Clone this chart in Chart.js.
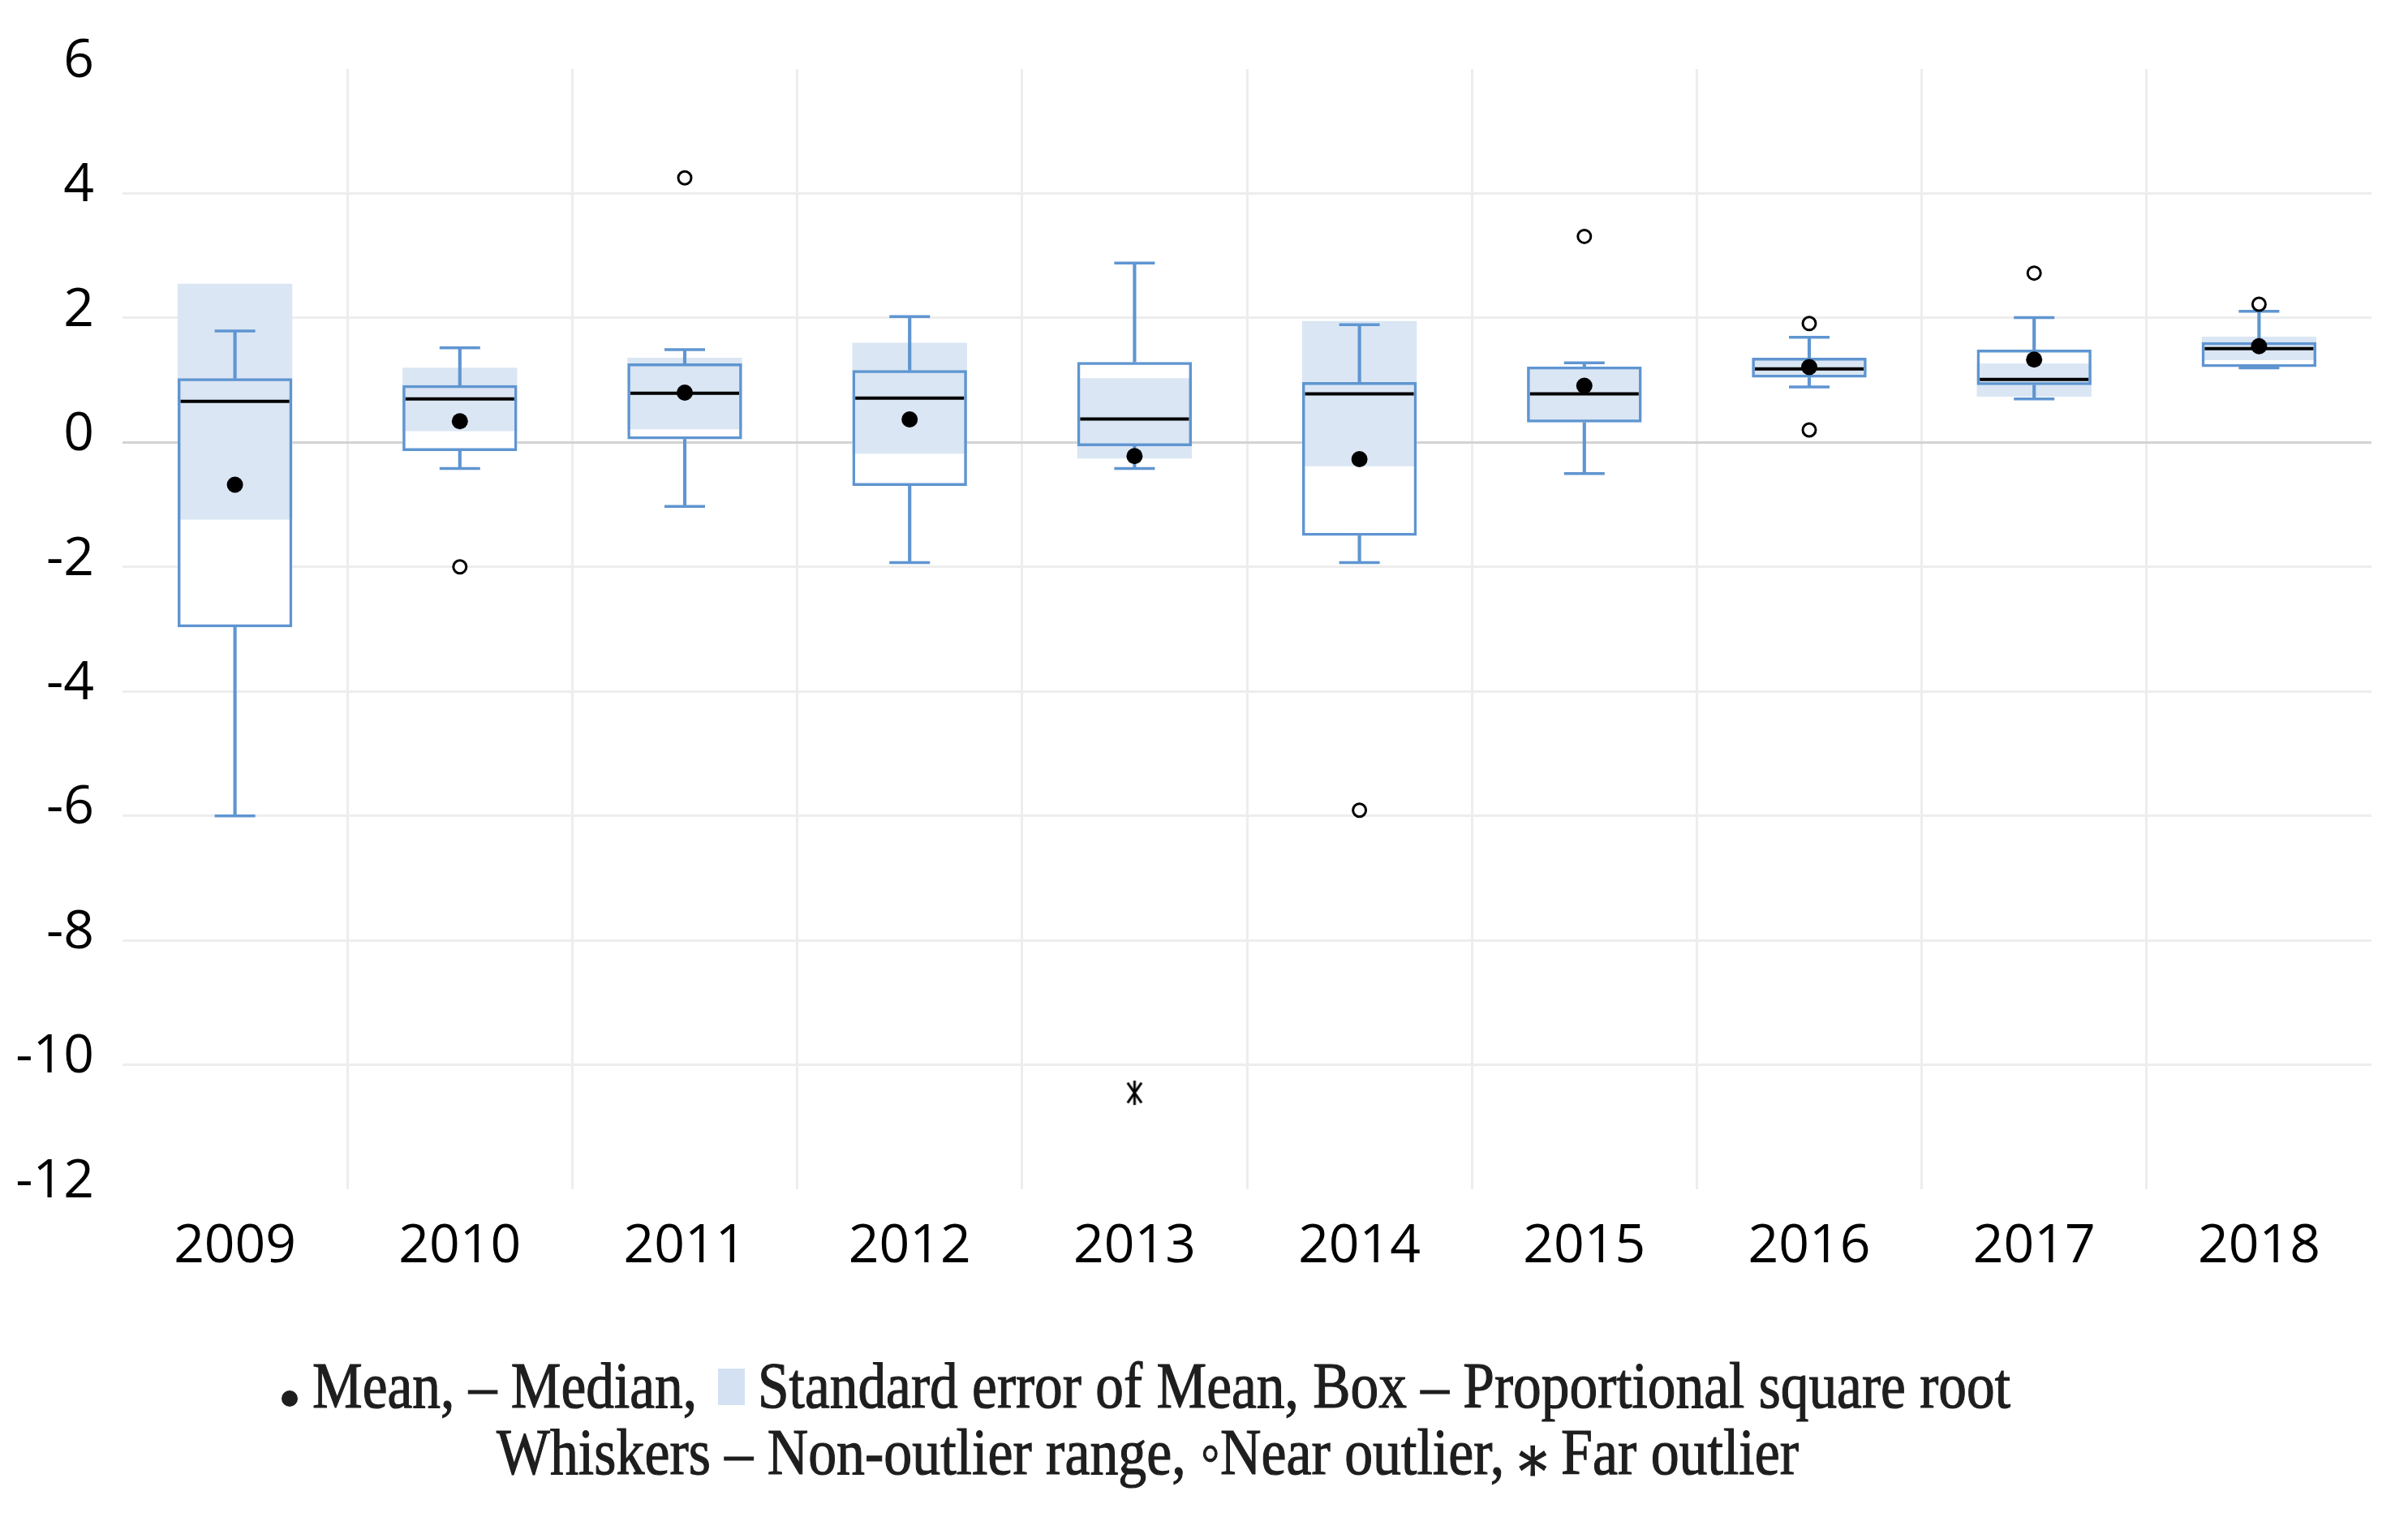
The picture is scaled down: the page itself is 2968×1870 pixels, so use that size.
<!DOCTYPE html>
<html>
<head>
<meta charset="utf-8">
<script src="https://cdn.jsdelivr.net/npm/chart.js"></script>
<style>
html,body{margin:0;padding:0;background:#ffffff;}
#wrap{width:2968px;height:1870px;position:relative;}
canvas{display:block;}
</style>
</head>
<body>
<div id="wrap"><canvas id="c" width="2968" height="1870"></canvas></div>
<script>
// ---------------- data ----------------
const years = ['2009','2010','2011','2012','2013','2014','2015','2016','2017','2018'];
const yTicks = [6, 4, 2, 0, -2, -4, -6, -8, -10, -12];

const boxLow      = [-2.97, -0.14, 0.05, -0.70, -0.06, -1.50, 0.32, 1.04, 0.92, 1.21];
const boxHigh     = [ 1.03,  0.92, 1.27,  1.16,  1.29,  0.97, 1.22, 1.36, 1.49, 1.61];
const seLow       = [-1.24,  0.18, 0.21, -0.18, -0.26, -0.385, 0.34, 1.06, 0.735, 1.32];
const seHigh      = [ 2.55,  1.20, 1.36,  1.60,  1.03,  1.95, 1.20, 1.34, 1.27, 1.70];
const medians     = [ 0.66,  0.70, 0.79,  0.71,  0.375, 0.78, 0.78, 1.18, 1.01, 1.505];
const means       = [-0.68,  0.34, 0.80,  0.37, -0.22, -0.27, 0.91, 1.21, 1.33, 1.545];
const whiskerMin  = [-6.00, -0.42, -1.03, -1.93, -0.42, -1.93, -0.50, 0.89, 0.70, 1.197];
const whiskerMax  = [ 1.79,  1.52, 1.49,  2.02,  2.88,  1.89, 1.28, 1.69, 2.006, 2.105];
const nearOutliers = [[], [-2.0], [4.25], [], [], [-5.91], [3.31], [1.91, 0.20], [2.72], [2.22]];
const farOutliers  = [[], [], [], [], [-10.45], [], [], [], [], []];

const legendMean  = 'Mean, \u2013 Median,';
const legendSE    = 'Standard error of Mean, Box \u2013 Proportional square root';
const legendLine2 = 'Whiskers \u2013 Non-outlier range, \u25E6Near outlier, \u204E Far outlier';

// ---------------- styles ----------------
const BLUE = '#5f95d1';
const SEFILL = '#dae6f3';
const GRID = '#ededed';
const ZERO = '#d3d3d3';
const TICKFONT = {family: '"Open Sans", "Noto Sans", sans-serif', size: 66};

function toPoints(lists) {
  const pts = [];
  lists.forEach((arr, i) => arr.forEach(v => pts.push({x: years[i], y: v})));
  return pts;
}

// asterisk marker
const star = document.createElement('canvas');
star.width = 30; star.height = 34;
(function(){
  const g = star.getContext('2d');
  g.strokeStyle = '#000'; g.lineWidth = 3; g.lineCap = 'butt';
  [90, 55, 125].forEach(a => {
    const r = a * Math.PI / 180, L = 15;
    g.beginPath();
    g.moveTo(15 + Math.cos(r) * L, 17 - Math.sin(r) * L);
    g.lineTo(15 - Math.cos(r) * L, 17 + Math.sin(r) * L);
    g.stroke();
  });
})();

function drawText(ctx, txt, x, y, sx) {
  ctx.save();
  ctx.translate(x, y);
  ctx.scale(sx, 1);
  ctx.fillText(txt, 0, 0);
  ctx.strokeText(txt, 0, 0);
  ctx.restore();
}

const legendPlugin = {
  id: 'legendText',
  afterDraw(chart) {
    const ctx = chart.ctx;
    const TXT = '#1e1e1e';
    ctx.save();
    ctx.font = '81px "Liberation Serif", "DejaVu Serif", serif';
    ctx.textBaseline = 'alphabetic';
    ctx.textAlign = 'left';
    ctx.fillStyle = TXT;
    ctx.strokeStyle = TXT;
    ctx.lineWidth = 1.2;
    const wSE = ctx.measureText(legendSE).width;
    const sx = (2478 - 934) / wSE;
    // mean dot
    ctx.beginPath();
    ctx.arc(357, 1724, 10, 0, Math.PI * 2);
    ctx.fill();
    drawText(ctx, legendMean, 385, 1735, sx);
    // SE swatch
    ctx.fillStyle = '#d3e1f2';
    ctx.fillRect(885, 1687, 33, 45);
    ctx.fillStyle = TXT;
    drawText(ctx, legendSE, 934, 1735, sx);
    // line 2
    const w2 = ctx.measureText(legendLine2).width;
    drawText(ctx, legendLine2, 612, 1817, (2217 - 612) / w2);
    ctx.restore();
  }
};

const rangeOf = (a, b) => years.map((_, i) => [a[i], b[i]]);

const barCommon = {type: 'bar', grouped: false, categoryPercentage: 1.0, barPercentage: 0.51};

new Chart(document.getElementById('c'), {
  type: 'bar',
  data: {
    labels: years,
    datasets: [
      Object.assign({}, barCommon, {label: 'boxFill', data: rangeOf(boxLow, boxHigh), backgroundColor: '#ffffff', borderWidth: 0, order: 10}),
      Object.assign({}, barCommon, {label: 'se', data: rangeOf(seLow, seHigh), backgroundColor: SEFILL, borderWidth: 0, order: 9}),
      Object.assign({}, barCommon, {label: 'box', data: rangeOf(boxLow, boxHigh), backgroundColor: 'rgba(0,0,0,0)', borderColor: BLUE, borderWidth: 3.5, borderSkipped: false, order: 8}),
      {type: 'bar', grouped: false, label: 'whiskUp', data: rangeOf(boxHigh, whiskerMax), backgroundColor: BLUE, borderWidth: 0, barThickness: 3.5, order: 7},
      {type: 'bar', grouped: false, label: 'whiskDown', data: rangeOf(whiskerMin, boxLow), backgroundColor: BLUE, borderWidth: 0, barThickness: 3.5, order: 7},
      {type: 'line', label: 'capMax', data: whiskerMax, showLine: false, pointStyle: 'line', pointRadius: 25, pointBorderWidth: 3.5, pointBorderColor: BLUE, borderColor: BLUE, order: 6},
      {type: 'line', label: 'capMin', data: whiskerMin, showLine: false, pointStyle: 'line', pointRadius: 25, pointBorderWidth: 3.5, pointBorderColor: BLUE, borderColor: BLUE, order: 6},
      {type: 'line', label: 'median', data: medians, showLine: false, pointStyle: 'line', pointRadius: 67, pointBorderWidth: 4, pointBorderColor: '#000', borderColor: '#000', order: 5},
      {type: 'line', label: 'mean', data: means, showLine: false, pointStyle: 'circle', pointRadius: 10, pointBackgroundColor: '#000', pointBorderColor: '#000', pointBorderWidth: 0, order: 4},
      {type: 'line', label: 'near', data: toPoints(nearOutliers), showLine: false, pointStyle: 'circle', pointRadius: 8, pointBackgroundColor: '#fff', pointBorderColor: '#000', pointBorderWidth: 3, order: 3},
      {type: 'line', label: 'far', data: toPoints(farOutliers), showLine: false, pointStyle: star, pointRadius: 15, order: 2}
    ]
  },
  options: {
    responsive: false,
    devicePixelRatio: 1,
    animation: false,
    events: [],
    layout: {autoPadding: false, padding: {top: 85, right: 45, left: 0, bottom: 0}},
    plugins: {legend: {display: false}, tooltip: {enabled: false}, title: {display: false}},
    scales: {
      x: {
        type: 'category',
        offset: true,
        border: {display: false},
        grid: {
          offset: true,
          drawTicks: false,
          lineWidth: 3,
          color: (c) => (c.type === 'tick' && c.index > 0) ? GRID : 'rgba(0,0,0,0)'
        },
        ticks: {font: TICKFONT, color: '#000', padding: 32, maxRotation: 0, autoSkip: false},
        afterFit: (s) => { s.height = 404; }
      },
      y: {
        min: -12, max: 6,
        border: {display: false},
        afterBuildTicks: (s) => { s.ticks = yTicks.map(v => ({value: v})); },
        grid: {
          drawTicks: false,
          lineWidth: 3,
          color: (c) => {
            const v = c.tick ? c.tick.value : null;
            if (v === 0) return ZERO;
            if (v === 6 || v === -12) return 'rgba(0,0,0,0)';
            return GRID;
          }
        },
        ticks: {font: TICKFONT, color: '#000', padding: 35, labelOffset: -9},
        afterFit: (s) => { s.width = 151; }
      }
    }
  },
  plugins: [legendPlugin]
});
</script>
</body>
</html>
